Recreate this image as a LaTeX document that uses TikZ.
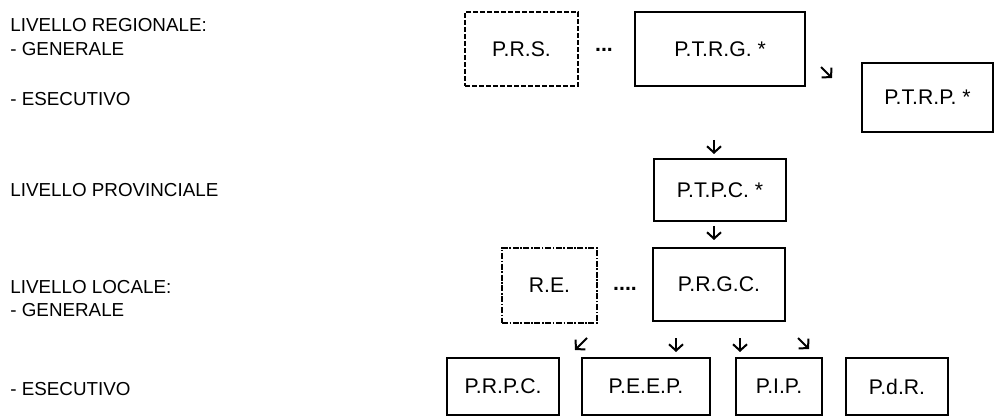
\documentclass[tikz,border=0pt]{standalone}
\usepackage{fontspec}
\setmainfont{Liberation Sans}
\usetikzlibrary{positioning,arrows.meta}

\tikzset{
plan/.style={rectangle, draw, line width=1pt, inner sep=0pt, font=\fontsize{10.6}{12}\selectfont},
planopt/.style={plan, dash pattern=on 2.5pt off 1pt},
planrif/.style={plan, dash pattern=on 3pt off 0.8pt on 0.8pt off 0.8pt},
livello/.style={anchor=base west, inner sep=0pt},
freccia/.style={line width=1pt, -{Straight Barb[length=3.2pt, width=7pt]}}
}

\begin{document}
\begin{tikzpicture}[x=0.5pt, y=-0.5pt, font=\fontsize{9.4}{11}\selectfont]

\useasboundingbox (0,0) rectangle (994,416);

\node[livello] (lreg) at (10,32) {LIVELLO REGIONALE:};
\node[livello] (lreggen) at (10,56) {- GENERALE};
\node[livello] (lregese) at (10,106) {- ESECUTIVO};
\node[livello] (lprov) at (10,197) {LIVELLO PROVINCIALE};
\node[livello] (lloc) at (10,293) {LIVELLO LOCALE:};
\node[livello] (llocgen) at (10,316) {- GENERALE};
\node[livello] (llocese) at (10,395) {- ESECUTIVO};



\node[planopt, minimum width=56.5pt, minimum height=37pt] (prs) at (521.5,49) {P.R.S.};

\node[plan, minimum width=85pt, minimum height=37pt] (ptrg) at (720,49) {P.T.R.G. *};

\node[inner sep=0pt, font=\fontsize{10.6}{12}\selectfont] (dots1) at (604,50) {\textbf{...}};

\node[plan, minimum width=65.5pt, minimum height=34.5pt] (ptrp) at (927.5,97.5) {P.T.R.P. *};

\node[plan, minimum width=66pt, minimum height=31pt] (ptpc) at (720,190) {P.T.P.C. *};


\node[planrif, minimum width=47.5pt, minimum height=37.5pt] (re) at (549.5,285.5) {R.E.};

\node[plan, minimum width=66pt, minimum height=36.5pt] (prgc) at (719,284.5) {P.R.G.C.};

\node[inner sep=0pt, font=\fontsize{10.6}{12}\selectfont] (dots2) at (625,289) {\textbf{....}};


\node[plan, minimum width=56pt, minimum height=28.5pt] (prpc) at (503,386.5) {P.R.P.C.};

\node[plan, minimum width=64pt, minimum height=28.5pt, right=10.5pt of prpc] (peep) {P.E.E.P.};

\node[plan, minimum width=43pt, minimum height=28.5pt, right=12pt of peep] (pip) {P.I.P.};

\node[plan, minimum width=51pt, minimum height=28.5pt, right=11pt of pip] (pdr) {P.d.R.};


\coordinate (f1) at (821,67);
\coordinate (f2) at (714,140);
\coordinate (f3) at (714,226);
\coordinate (f4) at (587,338);
\coordinate (f5) at (676,338);
\coordinate (f6) at (740,338);
\coordinate (f7) at (798,338);

\draw[freccia] (f1) -- ++(11,11);
\draw[freccia] (f2) -- ++(0,14);
\draw[freccia] (f3) -- ++(0,14);
\draw[freccia] (f4) -- ++(-12,12);
\draw[freccia] (f5) -- ++(0,14);
\draw[freccia] (f6) -- ++(0,14);
\draw[freccia] (f7) -- ++(11,11);

\end{tikzpicture}
\end{document}
